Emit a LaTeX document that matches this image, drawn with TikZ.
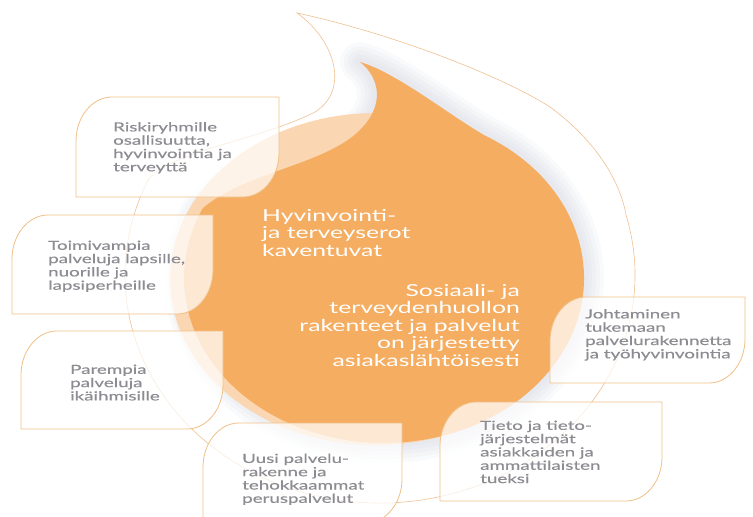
\documentclass[tikz,border=0pt]{standalone}
\usepackage{fontspec}
\setmainfont{Lato}[FakeStretch=1.5]
\newfontfamily\cardfont{Lato}[FakeStretch=1.5, FakeBold=0.4]
\usepackage{xcolor}
\usepackage{tikz}
\usetikzlibrary{positioning,calc}
\definecolor{dropor}{RGB}{245,173,98}
\definecolor{peach}{RGB}{250,214,178}
\definecolor{rimline}{RGB}{238,192,145}
\definecolor{cardline}{RGB}{240,192,135}
\definecolor{cardgray}{RGB}{140,140,146}
\definecolor{glowgray}{RGB}{190,196,210}
\pgfdeclarelayer{drop}
\pgfdeclarelayer{leaf}
\pgfsetlayers{drop,leaf,main}
\tikzstyle{card} = [rectangle, inner sep=0pt, outer sep=0pt]
\tikzstyle{cardtext} = [inner sep=0pt, align=left, text=cardgray, font=\cardfont\fontsize{12.5}{13.3}\selectfont]
\tikzstyle{centertext} = [inner sep=0pt, text=white, font=\fontsize{16.5}{17.5}\selectfont]
\tikzstyle{leaf} = [draw=cardline, line width=0.8pt, fill=white, fill opacity=0.72]
\tikzstyle{glow} = [draw=glowgray, opacity=0.09, line join=round]
\tikzset{
  drop path/.style={insert path={(360,62) .. controls (395,72) and (445,112) .. (484,135.1)
    arc[start angle=-60, end angle=205, x radius=200, y radius=165]
    .. controls (245,172) and (325,165) .. (360,130) .. controls (385,105) and (380,78) .. (360,62) -- cycle}},
  rim path/.style={insert path={(297,13) .. controls (390,33) and (500,75) .. (550,107)
    .. controls (595,140) and (620,180) .. (626.3,216)
    arc[start angle=-15, end angle=205, x radius=255, y radius=228]
    .. controls (175,150) and (260,140) .. (315,112) .. controls (350,90) and (335,40) .. (297,13) -- cycle}}
}
\begin{document}
\begin{tikzpicture}[x=1pt, y=-1pt]
    \useasboundingbox (0,0) rectangle (753,517);

    % Cards
    \node[card, minimum width=203pt, minimum height=100pt] (risk) at (177.5,147) {};
    \node[card, minimum width=201pt, minimum height=99pt] (lapset) at (112.5,264.5) {};
    \node[card, minimum width=202pt, minimum height=98pt] (ikaih) at (122,380) {};
    \node[card, minimum width=199pt, minimum height=100pt] (uusi) at (302.5,473) {};
    \node[card, minimum width=222pt, minimum height=99pt] (tieto) at (551,451.5) {};
    \node[card, minimum width=195pt, minimum height=86pt] (johto) at (647.5,340) {};

    % Card texts
    \node[cardtext, below right=25pt and 37pt of risk.north west] (risktxt) {Riskiryhmille\\osallisuutta,\\hyvinvointia ja\\terveyttä};
    \node[cardtext, below right=25.5pt and 36pt of lapset.north west] (lapsettxt) {Toimivampia\\palveluja lapsille,\\nuorille ja\\lapsiperheille};
    \node[cardtext, below right=33.5pt and 49pt of ikaih.north west] (ikaihtxt) {Parempia\\palveluja\\ikäihmisille};
    \node[cardtext, below right=30.5pt and 39pt of uusi.north west] (uusitxt) {Uusi palvelu-\\rakenne ja\\tehokkaammat\\peruspalvelut};
    \node[cardtext, below right=18.5pt and 40pt of tieto.north west] (tietotxt) {Tieto ja tieto-\\järjestelmät\\asiakkaiden ja\\ammattilaisten\\tueksi};
    \node[cardtext, below right=12pt and 35pt of johto.north west] (johtotxt) {Johtaminen\\tukemaan\\palvelurakennetta\\ja työhyvinvointia};

    % Centre texts
    \node[centertext, anchor=north west, align=left] (tavoite) at (262,209) {Hyvinvointi-\\ja terveyserot\\kaventuvat};
    \node[centertext, anchor=north east, align=right] (sote) at (520,284) {Sosiaali- ja\\terveydenhuollon\\rakenteet ja palvelut\\on järjestetty\\asiakaslähtöisesti};

    % Leaf shapes
    \begin{pgfonlayer}{leaf}
    \foreach \b in {risk,lapset,ikaih,uusi,tieto,johto}
        \draw[leaf] (\b.south west) -- ($(\b.north west)+(0pt,-44pt)$)
            .. controls +(0pt,24pt) and +(-20pt,0pt) .. ($(\b.north west)+(36pt,0pt)$)
            -- (\b.north east) -- ($(\b.south east)+(0pt,44pt)$)
            .. controls +(0pt,-24pt) and +(20pt,0pt) .. ($(\b.south east)+(-36pt,0pt)$) -- cycle;
    \end{pgfonlayer}

    % Drop
    \begin{pgfonlayer}{drop}
    \foreach \w in {40,32,24,16,9}
        \draw[glow, line width=\w pt] [drop path];
    \fill[peach] (376,279) ellipse [x radius=206, y radius=166];
    \fill[dropor] [drop path];
    \draw[rimline, line width=0.6pt] [rim path];
    \end{pgfonlayer}
\end{tikzpicture}
\end{document}
